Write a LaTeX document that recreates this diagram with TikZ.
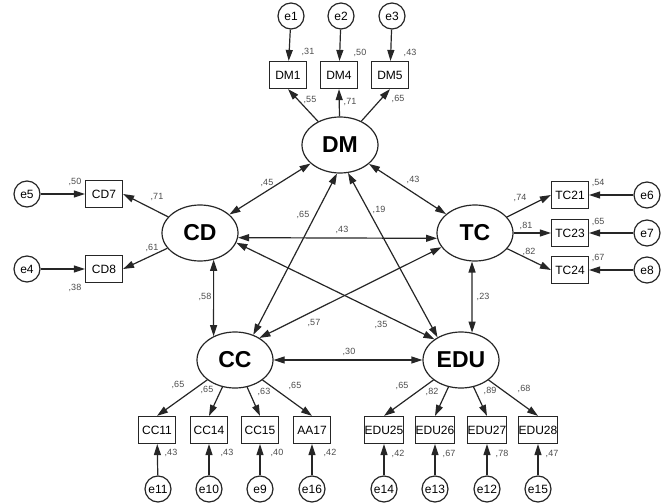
\documentclass[tikz,border=0pt]{standalone}
\usepackage{fontspec}
\setmainfont{Liberation Sans}
\usetikzlibrary{shapes.geometric,arrows.meta}
\begin{document}
\begin{tikzpicture}[x=1pt,y=-1pt,line width=1.2pt,draw=black!85,>={Triangle[length=11pt,width=7pt]},
  lat/.style={ellipse,draw,minimum width=76pt,minimum height=56pt,inner sep=0pt,font=\fontsize{23}{23}\selectfont\bfseries},
  obs/.style={rectangle,draw,minimum width=37pt,minimum height=27pt,inner sep=0pt,font=\fontsize{12}{12}\selectfont},
  err/.style={circle,draw,minimum size=26pt,inner sep=0pt,font=\fontsize{12}{12}\selectfont},
  num/.style={inner sep=0pt,text=black!70,font=\fontsize{9}{9}\selectfont}]%
  \useasboundingbox (0,0) rectangle (667,503);
  % latent variables
  \node[lat] at (340,145) (DM) {DM};
  \node[lat] at (200,233) (CD) {CD};
  \node[lat] at (475,233) (TC) {TC};
  \node[lat] at (235,360) (CC) {CC};
  \node[lat] at (461,360) (EDU) {EDU};

  % DM block
  \node[err] at (291,16) (e1) {e1};
  \node[err] at (341,16) (e2) {e2};
  \node[err] at (392,16) (e3) {e3};
  \node[obs] at (288,75) (DM1) {DM1};
  \node[obs] at (339,75) (DM4) {DM4};
  \node[obs] at (390,75) (DM5) {DM5};
  \draw[->] (e1) -- (DM1);
  \draw[->] (e2) -- (DM4);
  \draw[->] (e3) -- (DM5);
  \draw[->] (DM) -- (DM1.south);
  \draw[->] (DM) -- (DM4.south);
  \draw[->] (DM) -- (DM5.south);
  \node[num] at (310,100) (l-dm1) {,55};
  \node[num] at (350,102) (l-dm4) {,71};
  \node[num] at (398,99) (l-dm5) {,65};
  \node[num] at (308,52) (s-dm1) {,31};
  \node[num] at (360,53) (s-dm4) {,50};
  \node[num] at (410,53) (s-dm5) {,43};

  % CD block
  \node[err] at (27,194) (e5) {e5};
  \node[err] at (27,269) (e4) {e4};
  \node[obs] at (104,194) (CD7) {CD7};
  \node[obs] at (104,269) (CD8) {CD8};
  \draw[->] (e5) -- (CD7);
  \draw[->] (e4) -- (CD8);
  \draw[->] (CD) -- (CD7.east);
  \draw[->] (CD) -- (CD8.east);
  \node[num] at (157,197) (l-cd7) {,71};
  \node[num] at (152,248) (l-cd8) {,61};
  \node[num] at (75,182) (s-cd7) {,50};
  \node[num] at (75,288) (s-cd8) {,38};

  % TC block
  \node[err] at (647,195) (e6) {e6};
  \node[err] at (647,233) (e7) {e7};
  \node[err] at (647,270) (e8) {e8};
  \node[obs] at (570,195) (TC21) {TC21};
  \node[obs] at (570,233) (TC23) {TC23};
  \node[obs] at (570,270) (TC24) {TC24};
  \draw[->] (e6) -- (TC21);
  \draw[->] (e7) -- (TC23);
  \draw[->] (e8) -- (TC24);
  \draw[->] (TC) -- (TC21.west);
  \draw[->] (TC) -- (TC23.west);
  \draw[->] (TC) -- (TC24.west);
  \node[num] at (520,198) (l-tc21) {,74};
  \node[num] at (526,226) (l-tc23) {,81};
  \node[num] at (529,252) (l-tc24) {,82};
  \node[num] at (598,183) (s-tc21) {,54};
  \node[num] at (598,222) (s-tc23) {,65};
  \node[num] at (598,258) (s-tc24) {,67};

  % CC block
  \node[err] at (158,489) (e11) {e11};
  \node[err] at (209,489) (e10) {e10};
  \node[err] at (260,489) (e9) {e9};
  \node[err] at (312,489) (e16) {e16};
  \node[obs] at (157,430) (CC11) {CC11};
  \node[obs] at (209,430) (CC14) {CC14};
  \node[obs] at (260,430) (CC15) {CC15};
  \node[obs] at (312,430) (AA17) {AA17};
  \draw[->] (e11) -- (CC11);
  \draw[->] (e10) -- (CC14);
  \draw[->] (e9) -- (CC15);
  \draw[->] (e16) -- (AA17);
  \draw[->] (CC) -- (CC11.north);
  \draw[->] (CC) -- (CC14.north);
  \draw[->] (CC) -- (CC15.north);
  \draw[->] (CC) -- (AA17.north);
  \node[num] at (178,385) (l-cc11) {,65};
  \node[num] at (207,390) (l-cc14) {,65};
  \node[num] at (264,392) (l-cc15) {,63};
  \node[num] at (295,386) (l-aa17) {,65};
  \node[num] at (171,453) (s-cc11) {,43};
  \node[num] at (227,453) (s-cc14) {,43};
  \node[num] at (277,453) (s-cc15) {,40};
  \node[num] at (330,453) (s-aa17) {,42};

  % EDU block
  \node[err] at (384,489) (e14) {e14};
  \node[err] at (435,489) (e13) {e13};
  \node[err] at (487,489) (e12) {e12};
  \node[err] at (538,489) (e15) {e15};
  \node[obs] at (384,430) (EDU25) {EDU25};
  \node[obs] at (435,430) (EDU26) {EDU26};
  \node[obs] at (487,430) (EDU27) {EDU27};
  \node[obs] at (538,430) (EDU28) {EDU28};
  \draw[->] (e14) -- (EDU25);
  \draw[->] (e13) -- (EDU26);
  \draw[->] (e12) -- (EDU27);
  \draw[->] (e15) -- (EDU28);
  \draw[->] (EDU) -- (EDU25.north);
  \draw[->] (EDU) -- (EDU26.north);
  \draw[->] (EDU) -- (EDU27.north);
  \draw[->] (EDU) -- (EDU28.north);
  \node[num] at (402,386) (l-edu25) {,65};
  \node[num] at (432,392) (l-edu26) {,82};
  \node[num] at (490,391) (l-edu27) {,89};
  \node[num] at (524,389) (l-edu28) {,68};
  \node[num] at (398,454) (s-edu25) {,42};
  \node[num] at (449,454) (s-edu26) {,67};
  \node[num] at (502,454) (s-edu27) {,78};
  \node[num] at (552,454) (s-edu28) {,47};

  % covariances
  \draw[<->] (DM) -- (CD);
  \draw[<->] (DM) -- (TC);
  \draw[<->] (DM.-96) -- (CC.54);
  \draw[<->] (DM.-74) -- (EDU.136);
  \draw[<->] (CD.-7) -- (TC.188);
  \draw[<->] (CD.-15) -- (EDU.142);
  \draw[<->] (TC.203) -- (CC.42);
  \draw[<->] (CD.-63) -- (CC.132);
  \draw[<->] (TC.-96) -- (EDU.68);
  \draw[<->] (CC) -- (EDU);
  \node[num] at (267,183) (c-dmcd) {,45};
  \node[num] at (413,180) (c-dmtc) {,43};
  \node[num] at (303,215) (c-dmcc) {,65};
  \node[num] at (379,210) (c-dmedu) {,19};
  \node[num] at (342,230) (c-cdtc) {,43};
  \node[num] at (205,297) (c-cdcc) {,58};
  \node[num] at (314,323) (c-tccc) {,57};
  \node[num] at (381,325) (c-cdedu) {,35};
  \node[num] at (483,297) (c-tcedu) {,23};
  \node[num] at (349,352) (c-ccedu) {,30};
\end{tikzpicture}
\end{document}
